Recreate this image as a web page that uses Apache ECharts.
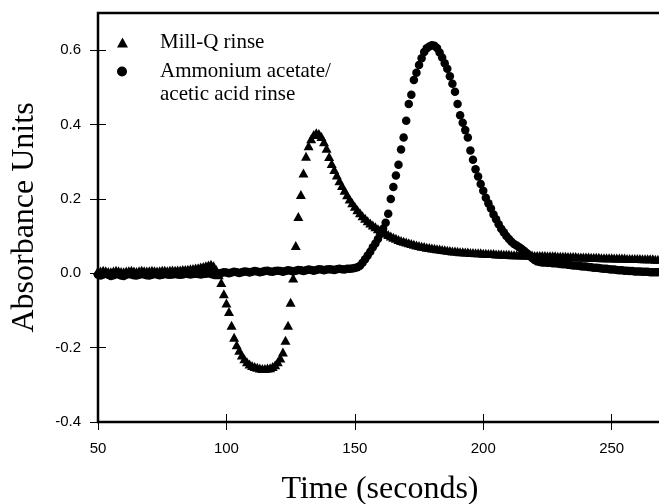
<!DOCTYPE html>
<html><head><meta charset="utf-8">
<script src="https://cdn.jsdelivr.net/npm/echarts@6/dist/echarts.min.js"></script>
<style>html,body{margin:0;padding:0;background:#fff}#c{width:659px;height:504px}</style>
</head><body><div id="c"></div>
<script>
// Sampling: one reading per second starting at 50 s
const T_START = 50, T_STEP = 1;

// Mill-Q rinse (triangles), t = 50 .. 268
const millQ = [
  0.007, 0.006, 0.008, 0.007, 0.005, 0.004, 0.006, 0.008, 0.007, 0.005,
  0.004, 0.006, 0.007, 0.008, 0.006, 0.005, 0.007, 0.008, 0.007, 0.006,
  0.007, 0.008, 0.007, 0.006, 0.007, 0.008, 0.008, 0.007, 0.008, 0.009,
  0.008, 0.009, 0.009, 0.010,
  0.010, 0.011, 0.012, 0.013, 0.014, 0.015, 0.017, 0.018, 0.020, 0.022,
  0.024, 0.020, 0.010, -0.004,
  -0.025, -0.055, -0.080, -0.103, -0.140, -0.172, -0.192, -0.207, -0.220, -0.230,
  -0.238, -0.244, -0.248, -0.251, -0.253, -0.255, -0.256, -0.256, -0.255, -0.254,
  -0.251, -0.246, -0.238, -0.228, -0.212, -0.180, -0.140, -0.078, -0.013,
  0.075, 0.153, 0.212, 0.270, 0.315, 0.343, 0.362, 0.373, 0.378, 0.376,
  0.368, 0.354, 0.336, 0.314, 0.295, 0.279, 0.264, 0.249, 0.236, 0.223,
  0.211, 0.200, 0.190, 0.180, 0.171, 0.163, 0.155, 0.148, 0.141, 0.135,
  0.130, 0.125, 0.120, 0.116, 0.112, 0.108, 0.104, 0.100, 0.097, 0.094,
  0.091, 0.088, 0.086, 0.084, 0.082, 0.080, 0.078, 0.076, 0.075, 0.073,
  0.072, 0.070, 0.069, 0.068, 0.067, 0.066, 0.065, 0.064, 0.063, 0.062,
  0.061, 0.060, 0.060, 0.059,
  0.058, 0.058, 0.057, 0.057, 0.056, 0.056, 0.055, 0.055, 0.055, 0.054,
  0.054, 0.053, 0.053, 0.053, 0.052, 0.052, 0.052, 0.051, 0.051, 0.051,
  0.050, 0.050, 0.050, 0.050, 0.049, 0.049, 0.049, 0.049, 0.049, 0.048,
  0.048, 0.048, 0.048, 0.048, 0.047, 0.047, 0.047, 0.047, 0.046, 0.046,
  0.046, 0.046, 0.045, 0.045, 0.045, 0.045, 0.044, 0.044, 0.044, 0.044,
  0.044, 0.043, 0.043, 0.043, 0.043, 0.042, 0.042, 0.042, 0.042, 0.042,
  0.041, 0.041, 0.041, 0.041, 0.041, 0.040, 0.040, 0.040, 0.040, 0.040,
  0.040, 0.039, 0.039, 0.039, 0.039, 0.039, 0.038, 0.038
];

// Ammonium acetate / acetic acid rinse (circles), t = 50 .. 268
const ammonium = [
  -0.004, -0.006, -0.003, -0.001, -0.004, -0.007, -0.005, -0.002, -0.003, -0.006,
  -0.007, -0.004, -0.002, -0.003, -0.005, -0.006, -0.004, -0.002, -0.003, -0.005,
  -0.006, -0.004, -0.002, -0.003, -0.005, -0.004, -0.002, -0.003, -0.004, -0.003,
  -0.002, -0.003, -0.004, -0.003, -0.001, -0.002, -0.003, -0.002, -0.001, -0.002,
  -0.003, -0.002, -0.001, 0.000, -0.002, -0.004, -0.003, -0.001,
  0.001, 0.003, 0.002, 0.000, 0.002, 0.004, 0.003, 0.001, 0.003, 0.005,
  0.004, 0.002, 0.004, 0.006, 0.005, 0.003, 0.004, 0.006, 0.007, 0.005,
  0.004, 0.006, 0.007, 0.006, 0.004, 0.006, 0.008, 0.007, 0.005, 0.007,
  0.009, 0.008, 0.006, 0.008, 0.010, 0.009, 0.007, 0.009, 0.011, 0.010,
  0.008, 0.010, 0.011, 0.010, 0.009, 0.011, 0.012, 0.011, 0.010, 0.012,
  0.012, 0.013, 0.014, 0.016, 0.020, 0.028, 0.038, 0.048, 0.058, 0.070,
  0.080, 0.092, 0.106, 0.120, 0.136, 0.160, 0.200, 0.232, 0.263, 0.292,
  0.333, 0.365, 0.410, 0.455, 0.480, 0.520, 0.539, 0.560, 0.578, 0.595,
  0.605, 0.610, 0.613, 0.612, 0.606, 0.594, 0.580, 0.565, 0.550, 0.530,
  0.510, 0.488, 0.455, 0.425, 0.405, 0.385, 0.365, 0.330, 0.305, 0.280,
  0.260, 0.240, 0.222, 0.203, 0.188, 0.174, 0.158, 0.145, 0.132, 0.120,
  0.110, 0.100, 0.092, 0.085, 0.079, 0.075, 0.070, 0.065, 0.060, 0.054,
  0.047, 0.041, 0.036, 0.032, 0.030, 0.029, 0.029, 0.028, 0.028, 0.027,
  0.027, 0.026, 0.025, 0.024, 0.024, 0.023, 0.022, 0.021, 0.021, 0.020,
  0.019, 0.018, 0.018, 0.017, 0.016, 0.015, 0.015, 0.014, 0.013, 0.012,
  0.012, 0.011, 0.010, 0.010, 0.009, 0.008, 0.008, 0.007, 0.007, 0.006,
  0.006, 0.005, 0.005, 0.005, 0.004, 0.004, 0.004, 0.003, 0.003, 0.003, 0.003
];

const xTicks = [50, 100, 150, 200, 250];
const yTicks = [-0.4, -0.2, 0.0, 0.2, 0.4, 0.6];
const seriesNames = ['Mill-Q rinse', 'Ammonium acetate/\nacetic acid rinse'];

function toPairs(vals) { return vals.map((v, i) => [T_START + i * T_STEP, v]); }

const chart = echarts.init(document.getElementById('c'), null, { renderer: 'canvas' });
const black = '#000';
const X_MIN = 50, X_MAX = 269.6, Y_MIN = -0.4, Y_MAX = 0.7;

const option = {
  animation: false,
  backgroundColor: '#fff',
  grid: { left: 98, right: -3, top: 13, bottom: 82, containLabel: false, outerBoundsMode: 'none',
    show: true, borderColor: black, borderWidth: 2.5, backgroundColor: 'transparent' },
  legend: [
    {
      orient: 'vertical', left: 117, top: 31, padding: 0,
      itemWidth: 11, itemHeight: 10,
      data: [{ name: seriesNames[0], icon: 'triangle' }],
      textStyle: { fontFamily: 'Liberation Serif', fontSize: 21, lineHeight: 23, color: black, padding: [0, 0, 0, 27] }
    },
    {
      orient: 'vertical', left: 117, top: 37, padding: 0,
      itemWidth: 10, itemHeight: 10,
      data: [{ name: seriesNames[1], icon: 'circle' }],
      formatter: name => ' \n' + name,
      textStyle: { fontFamily: 'Liberation Serif', fontSize: 21, lineHeight: 23, color: black, padding: [0, 0, 0, 28] }
    }
  ],
  xAxis: [
    {
      type: 'value', min: X_MIN, max: X_MAX, position: 'bottom',
      axisLine: { show: true, onZero: false, lineStyle: { color: black, width: 2 } },
      axisTick: { show: true, length: 8, customValues: xTicks, lineStyle: { color: black, width: 1 } },
      axisLabel: { customValues: xTicks, color: black, fontFamily: 'Liberation Sans', fontSize: 15, margin: 19 },
      splitLine: { show: false },
      name: 'Time (seconds)', nameLocation: 'middle', nameGap: 52,
      nameTextStyle: { fontFamily: 'Liberation Serif', fontSize: 32, color: black }
    },
    {
      type: 'value', min: X_MIN, max: X_MAX, position: 'bottom',
      axisLine: { show: false, onZero: false },
      axisTick: { show: true, inside: true, length: 8, customValues: xTicks, lineStyle: { color: black, width: 1 } },
      axisLabel: { show: false }, splitLine: { show: false }
    }
  ],
  yAxis: [
    {
      type: 'value', min: Y_MIN, max: Y_MAX, position: 'left',
      axisLine: { show: true, onZero: false, lineStyle: { color: black, width: 2 } },
      axisTick: { show: true, length: 8, customValues: yTicks, lineStyle: { color: black, width: 1 } },
      axisLabel: { customValues: yTicks, color: black, fontFamily: 'Liberation Sans', fontSize: 15, margin: 17,
        formatter: v => v.toFixed(1) },
      splitLine: { show: false },
      name: 'Absorbance Units', nameLocation: 'middle', nameGap: 57,
      nameTextStyle: { fontFamily: 'Liberation Serif', fontSize: 32, color: black }
    },
    {
      type: 'value', min: Y_MIN, max: Y_MAX, position: 'left',
      axisLine: { show: false, onZero: false },
      axisTick: { show: true, inside: true, length: 8, customValues: yTicks, lineStyle: { color: black, width: 1 } },
      axisLabel: { show: false }, splitLine: { show: false }
    }
  ],
  series: [
    {
      name: seriesNames[0], type: 'scatter', xAxisIndex: 0, yAxisIndex: 0,
      symbol: 'triangle', symbolSize: [10, 9],
      itemStyle: { color: black, opacity: 1 },
      data: toPairs(millQ)
    },
    {
      name: seriesNames[1], type: 'scatter', xAxisIndex: 0, yAxisIndex: 0,
      symbol: 'circle', symbolSize: 8.5,
      itemStyle: { color: black, opacity: 1 },
      data: toPairs(ammonium)
    }
  ]
};
chart.setOption(option);
</script>
</body></html>
